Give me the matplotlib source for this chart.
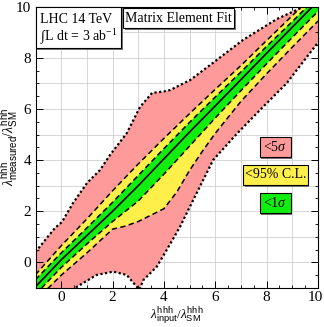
import matplotlib
matplotlib.use("Agg")
import matplotlib.pyplot as plt
from matplotlib.patches import Rectangle
import matplotlib.transforms as mtransforms
import numpy as np

plt.rcParams['font.family'] = ['Liberation Serif', 'DejaVu Serif']
plt.rcParams['mathtext.fontset'] = 'custom'
plt.rcParams['mathtext.rm'] = 'Liberation Serif'
plt.rcParams['mathtext.it'] = 'Liberation Serif:italic'
plt.rcParams['mathtext.bf'] = 'Liberation Serif:bold'
plt.rcParams['mathtext.sf'] = 'Liberation Sans'

# ---- data ----
pink_up_x = [-1.0, -0.24, 0.03, 0.46, 1.01, 1.51, 1.90, 2.55, 3.07, 3.54, 3.97, 4.24, 5.02, 5.80, 7.08, 8.40, 9.42, 10.0]
pink_up_y = [0.41, 1.35, 1.58, 2.32, 3.11, 3.61, 4.20, 5.05, 6.08, 6.63, 6.68, 6.74, 7.13, 7.72, 8.70, 9.52, 9.99, 10.3]

pink_lo_x = [-1.0, 0.3, 0.60, 1.38, 2.03, 2.55, 2.94, 3.05, 3.20, 3.72, 4.11, 4.63, 5.14, 5.92, 6.83, 7.74, 8.78, 10.0]
pink_lo_y = [-2.2, -1.3, -0.96, -0.49, -0.36, -0.49, -0.95, -1.06, -0.69, -0.17, 0.49, 1.40, 2.44, 4.01, 5.02, 5.96, 7.01, 8.60]

xs = [-1, 0, 1, 2, 3, 4, 5, 6, 7, 8, 9, 10]
central = [-0.95, 0.1, 1.05, 2.0, 3.0, 4.05, 5.1, 6.12, 7.15, 8.18, 9.2, 10.22]
green_up = [-0.67, 0.37, 1.35, 2.35, 3.4, 4.45, 5.48, 6.47, 7.45, 8.45, 9.42, 10.42]
green_lo = [-1.25, -0.2, 0.72, 1.6, 2.4, 3.45, 4.55, 5.65, 6.72, 7.77, 8.8, 9.82]
yellow_up = [-0.48, 0.65, 1.7, 2.8, 3.85, 4.85, 5.82, 6.77, 7.7, 8.68, 9.65, 10.64]

yellow_lo_x = [-1, 0, 1, 2, 2.5, 3, 3.5, 4, 4.5, 5, 5.5, 6, 7, 8, 9, 10]
yellow_lo_y = [-1.5, -0.5, 0.37, 1.3, 1.42, 1.6, 1.85, 2.1, 2.75, 3.6, 4.35, 5.05, 6.3, 7.38, 8.42, 9.44]

legend_labels = [r"<5$\sigma$", "<95% C.L.", r"<1$\sigma$"]

PINK = '#FF9A9A'
YELLOW = '#FFEF4A'
GREEN = '#10EE10'

fig = plt.figure(figsize=(3.24, 3.27), dpi=100)
ax = fig.add_axes([0.1096, 0.1193, 0.8719, 0.8602])
ax.set_xlim(-1, 10)
ax.set_ylim(-1, 10)

# grid
for g in range(-1, 11):
    ax.axvline(g, color='#d0d0d0', lw=0.6, zorder=0)
    ax.axhline(g, color='#d0d0d0', lw=0.6, zorder=0)

def band(xu, yu, xl, yl, color, z):
    px = list(xu) + list(xl)[::-1]
    py = list(yu) + list(yl)[::-1]
    ax.fill(px, py, color=color, lw=0, zorder=z)

band(pink_up_x, pink_up_y, pink_lo_x, pink_lo_y, PINK, 1)
band(xs, yellow_up, yellow_lo_x, yellow_lo_y, YELLOW, 2)
band(xs, green_up, xs, green_lo, GREEN, 3)

dot = (0, (1, 1.1))
dash = (0, (3.5, 2.2))
ax.plot(pink_up_x, pink_up_y, color='black', lw=1.6, ls=dot, zorder=5)
ax.plot(pink_lo_x, pink_lo_y, color='black', lw=1.6, ls=dot, zorder=5)
ax.plot(xs, yellow_up, color='black', lw=1.1, ls=dash, zorder=5)
ax.plot(yellow_lo_x, yellow_lo_y, color='black', lw=1.1, ls=dash, zorder=5)
ax.plot(xs, green_up, color='black', lw=1.1, ls=dash, zorder=5)
ax.plot(xs, green_lo, color='black', lw=1.1, ls=dash, zorder=5)
ax.plot(xs, central, color='black', lw=1.2, zorder=6)

# ticks
ax.set_xticks([0, 2, 4, 6, 8, 10])
ax.set_yticks([0, 2, 4, 6, 8, 10])
ax.set_xticks(np.arange(-1, 10.01, 0.5), minor=True)
ax.set_yticks(np.arange(-1, 10.01, 0.5), minor=True)
ax.tick_params(which='both', direction='in', top=True, right=True, labelsize=11)
ax.tick_params(axis='x', pad=2)
ax.tick_params(axis='y', pad=3)
ax.tick_params(which='major', length=5, width=0.7)
ax.tick_params(which='minor', length=2.5, width=0.6)
for s in ax.spines.values():
    s.set_linewidth(0.8)
    s.set_zorder(10)

# nudge the last x tick label a little to the left so it stays inside the figure
fig.canvas.draw()
last = ax.get_xticklabels()[-1]
last.set_transform(last.get_transform() + mtransforms.ScaledTranslation(-3 / 100, 0, fig.dpi_scale_trans))

ax.set_xlabel(r"$\lambda^{\mathsf{hhh}}_{\mathsf{input}}/\lambda^{\mathsf{hhh}}_{\mathsf{SM}}$", fontsize=9.5, labelpad=1)
ax.set_ylabel(r"$\lambda^{\mathsf{hhh}}_{\mathsf{measured}}/\lambda^{\mathsf{hhh}}_{\mathsf{SM}}$", fontsize=10, labelpad=-3)

def box(x0, y0, x1, y1, fc, z=20):
    ax.add_patch(Rectangle((x0 + 0.006, y0 - 0.006), x1 - x0, y1 - y0, transform=ax.transAxes,
                           fc='#777777', ec='none', zorder=z, clip_on=False))
    ax.add_patch(Rectangle((x0, y0), x1 - x0, y1 - y0, transform=ax.transAxes,
                           fc=fc, ec='black', lw=0.8, zorder=z + 1, clip_on=False))

def fx(px):
    return (px - 35.5) / 282.5

def fy(py):
    return (288 - py) / 281.3

# LHC box
box(fx(35.5), fy(48), fx(121), fy(6.7), 'white')
ax.text(fx(40), fy(19), "LHC 14 TeV", transform=ax.transAxes, fontsize=10, va='center', ha='left', zorder=30)
ax.text(fx(40), fy(37), r"$\int$L dt = 3 ab$^{-1}$", transform=ax.transAxes, fontsize=10, va='center', ha='left', zorder=30)
# Matrix Element Fit box
box(fx(123), fy(28), fx(234), fy(8), 'white')
ax.text(fx(178.5), fy(18), "Matrix Element Fit", transform=ax.transAxes, fontsize=10, va='center', ha='center', zorder=30)

# legend boxes
box(fx(259.5), fy(157), fx(290.5), fy(137), PINK)
ax.text(fx(275), fy(147), legend_labels[0], transform=ax.transAxes, fontsize=10, va='center', ha='center', zorder=30)
box(fx(243), fy(185), fx(307.5), fy(165), YELLOW)
ax.text(fx(275.2), fy(175), legend_labels[1], transform=ax.transAxes, fontsize=10, va='center', ha='center', zorder=30)
box(fx(259.5), fy(213.5), fx(290.5), fy(193.5), GREEN)
ax.text(fx(275), fy(203.5), legend_labels[2], transform=ax.transAxes, fontsize=10, va='center', ha='center', zorder=30)

fig.savefig("out.png", dpi=100)
